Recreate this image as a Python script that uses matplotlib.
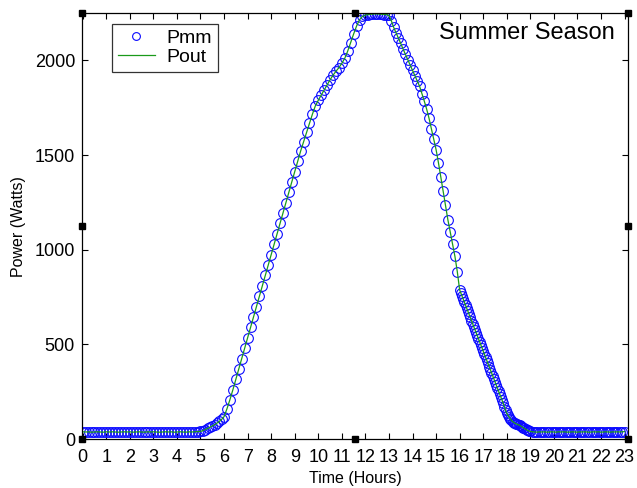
import numpy as np
import matplotlib
matplotlib.use("Agg")
import matplotlib.pyplot as plt

plt.rcParams['font.family'] = ['Liberation Sans', 'DejaVu Sans']

# ---- data (hours, watts) by segment ----
h_night1 = np.linspace(0, 5, 41)
p_night1 = [38, 37, 38, 36, 37, 38, 37, 36, 38, 37, 38, 37, 36, 37, 38, 37, 38, 36, 37, 38,
            37, 36, 38, 37, 38, 37, 36, 37, 38, 37, 38, 36, 37, 38, 37, 36, 38, 37, 38, 39, 40]
h_dawn = np.linspace(5.1, 6.0, 10)
p_dawn = [44, 50, 56, 62, 69, 76, 84, 93, 104, 118]
h_rise = np.linspace(6.125, 12, 48)
p_rise = [160, 208, 260, 315, 370, 425, 480, 536,
          590, 645, 700, 755, 810, 865, 920, 974,
          1029, 1084, 1139, 1194, 1249, 1304, 1358, 1412,
          1467, 1521, 1570, 1620, 1668, 1716, 1760, 1790,
          1817, 1844, 1871, 1898, 1922, 1943, 1962, 1985,
          2012, 2050, 2095, 2140, 2182, 2215, 2233, 2240]
h_peak = np.linspace(12.1, 13.0, 10)
p_peak = [2242, 2244, 2245, 2246, 2246, 2245, 2244, 2243, 2242, 2238]
h_fall = np.linspace(13.1, 16.0, 30)
p_fall = [2210, 2175, 2147, 2119, 2090, 2060, 2032, 2004, 1976, 1948,
          1920, 1892, 1864, 1825, 1785, 1743, 1695, 1640, 1585, 1529,
          1460, 1385, 1310, 1235, 1159, 1095, 1030, 965, 885, 788]
h_late = np.linspace(16.05, 18.0, 40)
p_late = [772, 756, 740, 724, 707, 691, 675, 659, 643, 626,
          610, 594, 578, 562, 545, 529, 513, 497, 481, 464,
          448, 432, 416, 400, 383, 367, 351, 335, 319, 302,
          286, 270, 254, 238, 221, 205, 189, 170, 152, 135]
h_dusk = np.linspace(18.05, 19.0, 20)
p_dusk = [125, 115, 106, 98, 92, 87, 83, 80, 77, 75,
          72, 68, 64, 60, 56, 52, 48, 45, 42, 40]
h_night2 = np.linspace(19.1, 23.0, 40)
p_night2 = [38, 37, 36, 38, 37, 38, 36, 37, 38, 37, 36, 38, 37, 38, 37, 36, 37, 38, 37, 36,
            38, 37, 38, 37, 36, 37, 38, 37, 38, 36, 37, 38, 37, 36, 38, 37, 38, 37, 38, 39]

hours = np.concatenate([h_night1, h_dawn, h_rise, h_peak, h_fall, h_late, h_dusk, h_night2])
pmm = np.concatenate([p_night1, p_dawn, p_rise, p_peak, p_fall, p_late, p_dusk, p_night2])
pout = pmm.copy()

xticks = list(range(0, 24))
yticks = [0, 500, 1000, 1500, 2000]

narrow = ['Liberation Sans Narrow', 'Liberation Sans', 'DejaVu Sans']

fig = plt.figure(figsize=(6.37, 4.88), dpi=100)
ax = fig.add_axes([0.1287, 0.1004, 0.8573, 0.8726])

ax.plot(hours, pmm, linestyle='none', marker='o', markersize=7, markerfacecolor='none',
        markeredgecolor='#0a0aff', markeredgewidth=0.8, label='Pmm', clip_on=True)
ax.plot(hours, pout, color='#1a9a1a', linewidth=0.9, label='Pout')

ax.set_xlim(-0.03, 23.15)
ax.set_ylim(0, 2250)
ax.set_xticks(xticks)
ax.set_xticklabels([str(t) for t in xticks], family=narrow)
ax.set_yticks(yticks)
ax.set_yticklabels([str(t) for t in yticks], family=narrow)
ax.tick_params(direction='in', top=True, right=True, length=4, width=0.8,
               labelsize=13)
ax.tick_params(axis='x', pad=7)
ax.tick_params(axis='y', pad=5)
for s in ax.spines.values():
    s.set_linewidth(0.9)

ax.set_xlabel('Time (Hours)', fontsize=11.5, labelpad=4)
ax.set_ylabel('Power (Watts)', fontsize=11.5, labelpad=6)

ax.text(0.975, 0.953, 'Summer Season', transform=ax.transAxes, ha='right', va='center',
        fontsize=17)

leg = ax.legend(loc='upper left', bbox_to_anchor=(0.055, 0.975), fontsize=14,
                frameon=True, fancybox=False, edgecolor='black', handlelength=1.9,
                borderpad=0.3, labelspacing=0.05, handletextpad=0.6, borderaxespad=0,
                markerscale=0.8)
leg.get_frame().set_linewidth(0.9)

# axes selection handles (black squares)
for (xa, ya) in [(0, 0), (0.5, 0), (1, 0), (0, 1), (0.5, 1), (1, 1), (0, 0.5), (1, 0.5)]:
    ax.plot([xa], [ya], marker='s', markersize=5, color='black', transform=ax.transAxes,
            clip_on=False, zorder=10)

fig.savefig('out.png', dpi=100)
